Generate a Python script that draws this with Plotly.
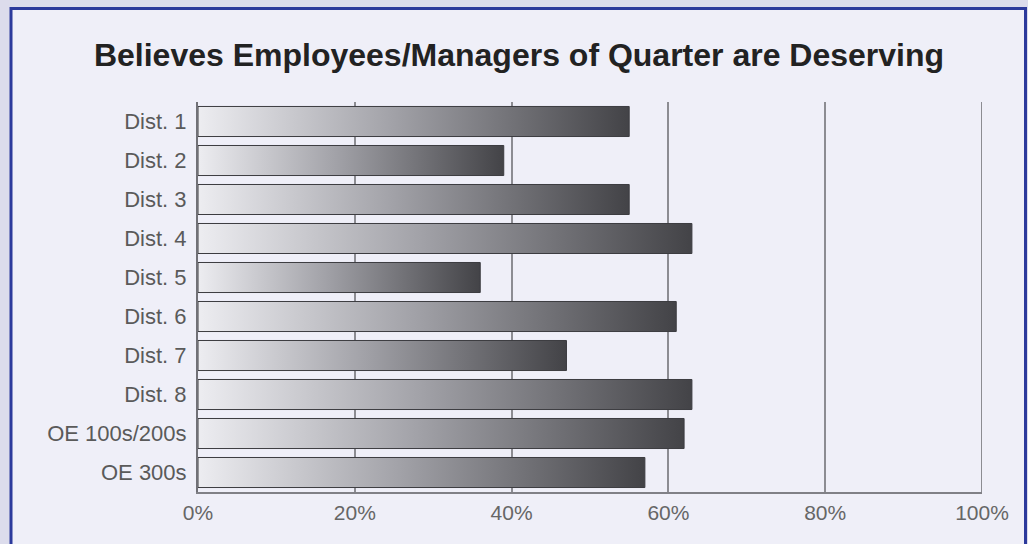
import plotly.graph_objects as go

categories = ["Dist. 1", "Dist. 2", "Dist. 3", "Dist. 4", "Dist. 5",
              "Dist. 6", "Dist. 7", "Dist. 8", "OE 100s/200s", "OE 300s"]
values = [55, 39, 55, 63, 36, 61, 47, 63, 62, 57]
x_ticks = [0, 20, 40, 60, 80, 100]
x_tick_labels = ["0%", "20%", "40%", "60%", "80%", "100%"]
title_text = "Believes Employees/Managers of Quarter are Deserving"

W, H = 1028, 544
ML, MR, MT, MB = 198, 46, 102, 52
HALF = 0.385

fig = go.Figure()
for i, (cat, v) in enumerate(zip(categories, values)):
    fig.add_trace(go.Scatter(
        x=[0, v, v, 0, 0],
        y=[i - HALF, i - HALF, i + HALF, i + HALF, i - HALF],
        mode="lines",
        fill="toself",
        fillgradient=dict(type="horizontal",
                          colorscale=[[0, "#ededf1"], [0.45, "#a2a2a8"], [1, "#434347"]]),
        line=dict(color="#3c3c40", width=1),
        name=cat,
        showlegend=False,
        hoverinfo="skip",
    ))

pw, ph = W - ML - MR, H - MT - MB
def px(X):
    return (X - ML) / pw
def py(Y):
    return (H - MB - Y) / ph

# panel behind everything
fig.add_shape(type="rect", xref="paper", yref="paper",
              x0=px(11), x1=px(1025.5), y0=py(570), y1=py(8.5),
              fillcolor="#efeff8", line=dict(color="#2c3a9c", width=3),
              layer="below")
# gridline at the far end of the axis (plotly drops the edge grid line)
fig.add_shape(type="line", xref="x", yref="paper",
              x0=x_ticks[-1], x1=x_ticks[-1], y0=0, y1=1,
              line=dict(color="#8c8c92", width=2), layer="below")

fig.update_layout(
    width=W, height=H,
    margin=dict(l=ML, r=MR, t=MT, b=MB, pad=0),
    paper_bgcolor="#dcdcec",
    plot_bgcolor="rgba(0,0,0,0)",
    font=dict(family="Liberation Sans, Arial, sans-serif", color="#555555"),
    title=dict(text="<b>" + title_text + "</b>", x=519 / W, xanchor="center",
               y=1 - 55 / H, yanchor="middle", yref="container",
               font=dict(size=32, color="#222222",
                         family="Liberation Sans, Arial, sans-serif")),
    xaxis=dict(range=[0, 100], tickvals=x_ticks, ticktext=x_tick_labels,
               showgrid=True, gridcolor="#8c8c92", gridwidth=2,
               zeroline=False, showline=True, linecolor="#808086", linewidth=2,
               ticks="", tickfont=dict(size=21, color="#666666"),
               ticklabelstandoff=1, fixedrange=True),
    yaxis=dict(range=[len(categories) - 0.5, -0.5],
               tickvals=list(range(len(categories))), ticktext=categories,
               showgrid=False, zeroline=False, showline=True,
               linecolor="#707076", linewidth=2, ticks="",
               tickfont=dict(size=22, color="#5a5a5a"),
               ticklabelstandoff=5, fixedrange=True),
)

fig.write_html("out.html")
